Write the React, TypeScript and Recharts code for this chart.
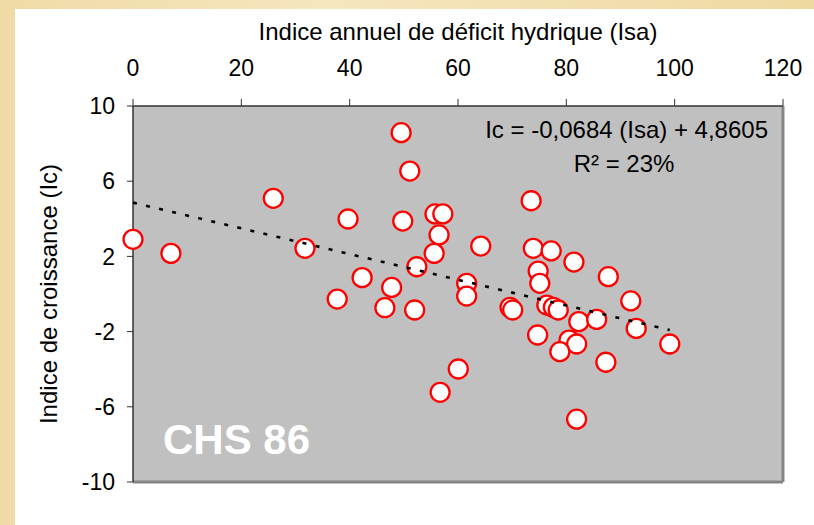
import React from 'react';
import { ScatterChart, Scatter, XAxis, YAxis, CartesianGrid, ReferenceLine } from 'recharts';

// Indice annuel de déficit hydrique (Isa)
const isa = [0, 7.0, 25.9, 31.75, 39.7, 49.5, 51.1, 49.8, 55.75, 57.2, 56.5, 55.6, 52.4, 42.3, 47.75, 37.7, 46.5, 52.0, 56.7, 60.05, 64.2, 73.5, 73.9, 77.2, 81.4, 74.8, 75.1, 87.75, 61.6, 61.6, 69.6, 70.1, 91.9, 76.4, 77.6, 78.5, 82.3, 85.6, 92.9, 99.1, 74.7, 80.5, 81.9, 78.8, 87.3, 81.9];
// Indice de croissance (Ic)
const ic = [2.91, 2.16, 5.09, 2.43, 3.99, 8.58, 6.54, 3.88, 4.26, 4.26, 3.14, 2.16, 1.45, 0.87, 0.35, -0.27, -0.73, -0.85, -5.23, -3.99, 2.55, 4.96, 2.43, 2.29, 1.7, 1.22, 0.57, 0.92, 0.57, -0.11, -0.71, -0.85, -0.37, -0.59, -0.71, -0.85, -1.47, -1.35, -1.83, -2.66, -2.18, -2.45, -2.66, -3.07, -3.63, -6.66];

const xTicks = [0, 20, 40, 60, 80, 100, 120];
const yTicks = [-10, -6, -2, 2, 6, 10];

const slope = -0.0684;
const intercept = 4.8605;

const points = isa.map((x, i) => ({ x, y: ic[i] }));
const xMax = Math.max(...isa);
const trend = [
  { x: 0, y: intercept },
  { x: xMax, y: intercept + slope * xMax },
];

const FONT = '"Liberation Sans", Arial, sans-serif';

const Marker = (props: any) => {
  const { cx, cy } = props;
  if (cx == null || cy == null) return <g />;
  return <circle cx={cx} cy={cy} r={9.5} fill="#ffffff" stroke="#ff0000" strokeWidth={2.3} />;
};

const NoShape = () => <g />;

export default function App() {
  return (
    <div style={{ position: 'absolute', left: 0, top: 0, width: 814, height: 525, background: 'linear-gradient(90deg, #F0DBA6, #F6E6BE 40%, #EFD9A2)', overflow: 'hidden' }}>
      <div style={{ position: 'absolute', left: 15, top: 9, width: 799, height: 516, background: '#ffffff' }} />
      <div style={{ position: 'absolute', left: 0, top: 0 }}>
        <ScatterChart width={814} height={525} margin={{ top: 46, right: 31, bottom: 43, left: 73 }}>
          <CartesianGrid fill="#C0C0C0" horizontal={false} vertical={false} />
          <XAxis
            type="number"
            dataKey="x"
            orientation="top"
            domain={[0, 120]}
            ticks={xTicks}
            height={60}
            tickSize={7}
            tickMargin={23}
            axisLine={{ stroke: '#333333', strokeWidth: 1.5 }}
            tickLine={{ stroke: '#333333' }}
            tick={{ fill: '#000000', fontSize: 23, fontFamily: FONT }}
            interval={0}
          />
          <YAxis
            type="number"
            dataKey="y"
            domain={[-10, 10]}
            ticks={yTicks}
            width={60}
            tickSize={6}
            tickMargin={12}
            axisLine={{ stroke: '#333333', strokeWidth: 1.5 }}
            tickLine={{ stroke: '#333333' }}
            tick={{ fill: '#000000', fontSize: 23, fontFamily: FONT }}
            interval={0}
          />
          <ReferenceLine x={120} stroke="#858585" strokeWidth={3} />
          <ReferenceLine y={-10} stroke="#858585" strokeWidth={3} />
          <Scatter data={points} shape={Marker} isAnimationActive={false} />
          <Scatter
            data={trend}
            shape={NoShape}
            line={{ stroke: '#000000', strokeWidth: 2.6, strokeDasharray: '4 9.4' }}
            isAnimationActive={false}
          />
        </ScatterChart>
      </div>
      <svg width={814} height={525} style={{ position: 'absolute', left: 0, top: 0, pointerEvents: 'none' }}>
        <text x={458} y={40} textAnchor="middle" fontSize={24} fontFamily={FONT} fill="#000000">
          Indice annuel de déficit hydrique (Isa)
        </text>
        <text x={57} y={294} textAnchor="middle" fontSize={24} fontFamily={FONT} fill="#000000" transform="rotate(-90 57 294)">
          Indice de croissance (Ic)
        </text>
        <text x={768} y={138} textAnchor="end" fontSize={24} fontFamily={FONT} fill="#000000">
          Ic = -0,0684 (Isa) + 4,8605
        </text>
        <text x={624} y={172} textAnchor="middle" fontSize={24} fontFamily={FONT} fill="#000000">
          R² = 23%
        </text>
        <text x={163} y={454} textAnchor="start" fontSize={42} fontWeight="bold" fontFamily={FONT} fill="#ffffff">
          CHS 86
        </text>
      </svg>
    </div>
  );
}
